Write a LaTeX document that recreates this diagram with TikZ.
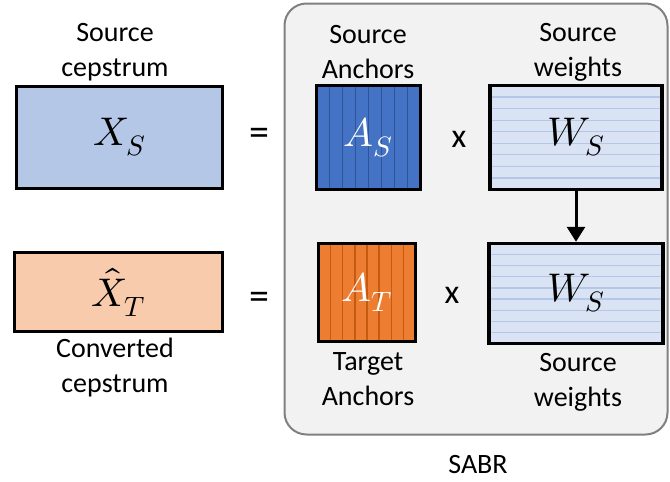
\documentclass[tikz,border=0pt]{standalone}
\usepackage{unicode-math}
\setmainfont{Carlito}
\setmathfont{Latin Modern Math}
\usetikzlibrary{calc,arrows.meta}
\definecolor{xsfill}{HTML}{B4C7E7}
\definecolor{xtfill}{HTML}{F8CBAD}
\definecolor{asfill}{HTML}{4472C4}
\definecolor{asline}{HTML}{2F5597}
\definecolor{atfill}{HTML}{ED7D31}
\definecolor{atline}{HTML}{C55A11}
\definecolor{wsfill}{HTML}{DAE3F3}
\definecolor{wsline}{HTML}{B4C7E7}
\definecolor{panelfill}{HTML}{F2F2F2}
\definecolor{panelline}{HTML}{808080}
\tikzset{
  mbox/.style={draw=black, line width=3.5pt, rectangle, inner sep=0pt},
  lbl/.style={font=\fontsize{28}{35}\selectfont, align=center, inner sep=0pt},
  eqop/.style={font=\fontsize{40}{42}\selectfont, inner sep=0pt},
  xop/.style={font=\fontsize{34}{36}\selectfont, inner sep=0pt},
  mth/.style={font=\fontsize{40}{42}\selectfont, inner sep=0pt},
  vstripes/.style={path picture={
      \foreach \i in {1,...,7}{
        \draw[#1, line width=1.3pt]
          ($(path picture bounding box.north west)!\i/8!(path picture bounding box.north east)$) --
          ($(path picture bounding box.south west)!\i/8!(path picture bounding box.south east)$);
      }}},
  hstripes/.style={path picture={
      \foreach \i in {1,...,8}{
        \draw[#1, line width=1.3pt]
          ($(path picture bounding box.north west)!\i/9!(path picture bounding box.south west)$) --
          ($(path picture bounding box.north east)!\i/9!(path picture bounding box.south east)$);
      }}},
  panel/.style={draw=panelline, fill=panelfill, line width=2pt, rounded corners=22pt, rectangle, inner sep=0pt},
  arr/.style={draw=black, line width=3pt, -{Triangle[width=18pt,length=15pt]}}
}
\begin{document}
\begin{tikzpicture}[x=1pt,y=-1pt]
\useasboundingbox (0,0) rectangle (670,482);
% panel
\node[panel, minimum width=383pt, minimum height=431pt] (sabr) at (476,219) {};
\node[lbl] (sabrlbl) at (478,465) {SABR};
% left boxes
\node[mbox, fill=xsfill, minimum width=206pt, minimum height=102pt] (xs) at (119.5,137.5) {};
\node[mth] (xslbl) at (xs.center) {$X_S$};
\node[mbox, fill=xtfill, minimum width=208pt, minimum height=79pt] (xt) at (118.5,292) {};
\node[mth] (xtlbl) at (xt.center) {$\hat{X}_T$};
\node[lbl] (srccep) at (115,52) {Source\\cepstrum};
\node[lbl] (convcep) at (115,368) {Converted\\cepstrum};
% equals
\node[eqop] (eq1) at (259,137) {=};
\node[eqop] (eq2) at (259,301) {=};
% anchors
\node[mbox, fill=asfill, vstripes=asline, minimum width=104pt, minimum height=104pt] (as) at (368.5,137.5) {};
\node[mth, text=white] (aslbl) at (as.center) {$A_S$};
\node[mbox, fill=atfill, vstripes=atline, minimum width=97pt, minimum height=98pt] (at) at (367,292.5) {};
\node[mth, text=white] (atlbl) at (at.center) {$A_T$};
\node[lbl] (srcanc) at (368,52) {Source\\Anchors};
\node[lbl] (tgtanc) at (368,379) {Target\\Anchors};
% times
\node[xop] (x1) at (459,139) {x};
\node[xop] (x2) at (452,295) {x};
% weights
\node[mbox, fill=wsfill, hstripes=wsline, minimum width=172pt, minimum height=104pt] (ws1) at (576,137.5) {};
\node[mth] (ws1lbl) at (ws1.center) {$W_S$};
\node[mbox, fill=wsfill, hstripes=wsline, minimum width=174pt, minimum height=100pt] (ws2) at (576,293.5) {};
\node[mth] (ws2lbl) at (ws2.center) {$W_S$};
\node[lbl] (srcw1) at (578,52) {Source\\weights};
\node[lbl] (srcw2) at (578,382) {Source\\weights};
% arrow
\draw[arr] (ws1.south) -- (ws2.north);
\end{tikzpicture}
\end{document}
